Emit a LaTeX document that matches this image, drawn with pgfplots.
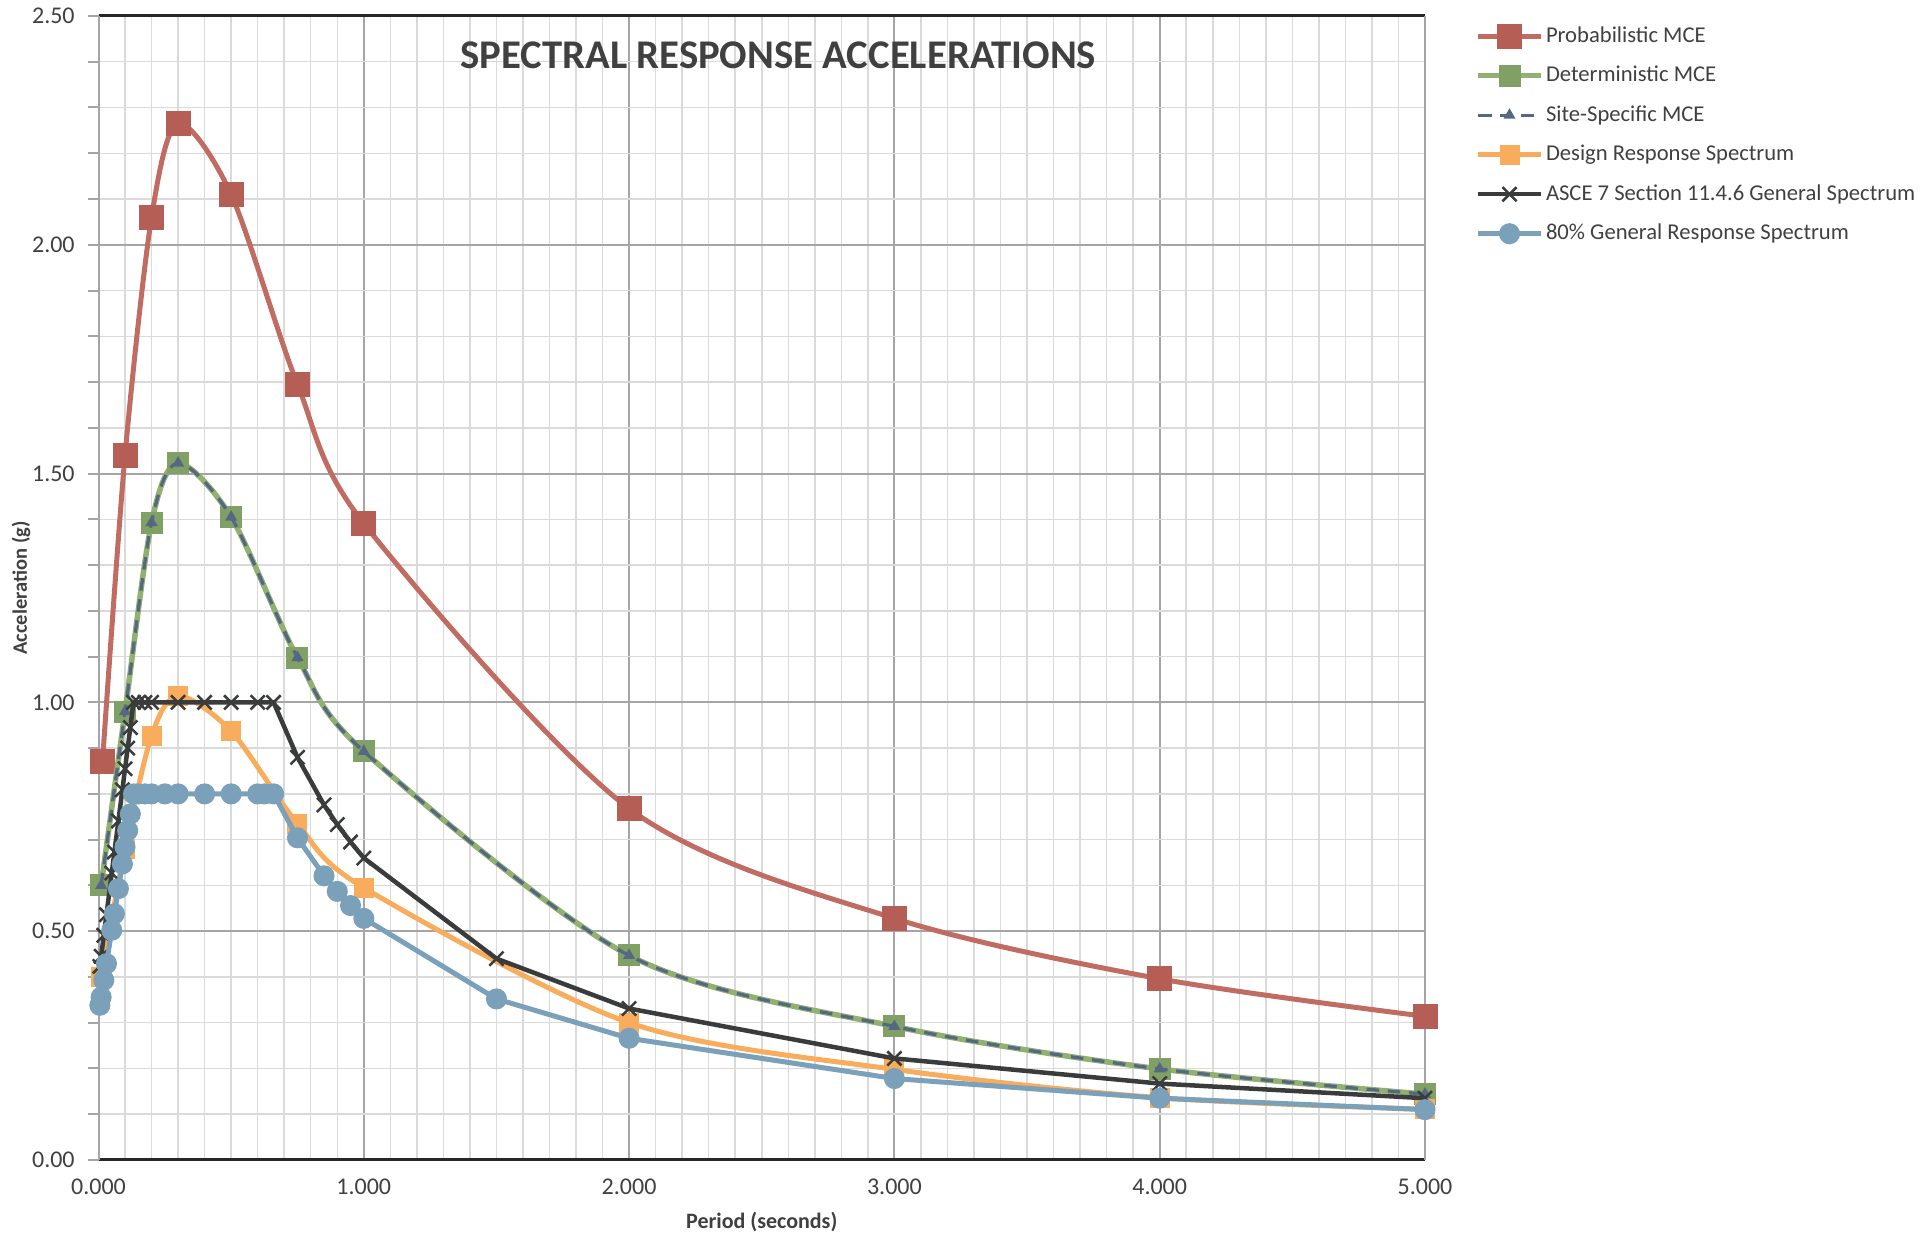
\documentclass[border=0pt]{standalone}
\usepackage{fontspec}
\setmainfont{Carlito}
\usepackage{pgfplots}
\pgfplotsset{compat=1.18}

\definecolor{cProb}{RGB}{192,108,98}
\definecolor{cProbM}{RGB}{180,94,86}
\definecolor{cDet}{RGB}{146,176,112}
\definecolor{cDetM}{RGB}{128,160,102}
\definecolor{cSite}{RGB}{84,104,132}
\definecolor{cDes}{RGB}{248,172,92}
\definecolor{cAsce}{RGB}{58,60,60}
\definecolor{cGen}{RGB}{122,160,186}
\definecolor{gridmajor}{RGB}{165,165,165}
\definecolor{gridminor}{RGB}{218,218,218}
\definecolor{textgrey}{RGB}{64,64,64}

\begin{document}
\begin{tikzpicture}
\path[use as bounding box] (0,0) rectangle (772.4pt,494.4pt);
\begin{axis}[
  at={(39.4pt,30.4pt)}, anchor=south west,
  scale only axis, width=530.6pt, height=457.6pt,
  xmin=0, xmax=5, ymin=0, ymax=2.5,
  xtick={0,1,2,3,4,5}, ytick={0,0.5,1,1.5,2,2.5},
  minor x tick num=9, minor y tick num=4,
  grid=both,
  major grid style={draw=gridmajor, line width=0.8pt},
  minor grid style={draw=gridminor, line width=0.6pt},
  separate axis lines,
  x axis line style={draw=black!85, line width=1.2pt},
  y axis line style={draw=gridmajor, line width=0.8pt},
  tick align=outside,
  xtick pos=bottom, ytick pos=left,
  major tick length=4pt, minor tick length=4pt,
  xtick style={draw=none},
  minor x tick style={draw=none},
  ytick style={draw=gridmajor, line width=0.8pt},
  xticklabel={\pgfmathprintnumber[assume math mode=true,fixed,fixed zerofill,precision=3]{\tick}},
  yticklabel={\pgfmathprintnumber[assume math mode=true,fixed,fixed zerofill,precision=2]{\tick}},
  tick label style={font=\fontsize{9.6}{11}\selectfont, text=textgrey},
  yticklabel style={xshift=-2pt},
  xlabel={Period (seconds)},
  ylabel={Acceleration (g)},
  xlabel style={font=\fontsize{8.8}{10}\selectfont\bfseries, text=textgrey, at={(axis description cs:0.5,-0.0538)}, anchor=center},
  ylabel style={font=\fontsize{8.2}{10}\selectfont\bfseries, text=textgrey, at={(axis description cs:-0.0584,0.5)}, anchor=center},
  legend style={at={(1,1)}, anchor=north west, xshift=20pt, yshift=-2.4pt,
    draw=none, fill=none, inner sep=0pt, row sep=4.8pt,
    font=\fontsize{9.05}{11}\selectfont, text=textgrey,
    nodes={inner sep=1pt, text height=7pt, text depth=2pt}},
  legend cell align=left,
  legend image code/.code={\draw[mark repeat=2,mark phase=2] plot coordinates {(0pt,0pt) (12.5pt,0pt) (25pt,0pt)};},
  clip mode=individual,
]
% Probabilistic MCE
\addplot[cProb, line width=2pt, smooth, mark=square*, mark size=4pt,
  mark options={solid, fill=cProbM, draw=cProbM}]
  coordinates {(0.015,0.87) (0.1,1.54) (0.2,2.06) (0.3,2.265) (0.5,2.11) (0.75,1.695) (1,1.391) (2,0.768) (3,0.528) (4,0.396) (5,0.314)};
\addlegendentry{Probabilistic MCE}
% Deterministic MCE
\addplot[cDet, line width=2.2pt, smooth, mark=square*, mark size=3.3pt,
  mark options={solid, fill=cDetM, draw=cDetM}]
  coordinates {(0.01,0.60) (0.1,0.98) (0.2,1.393) (0.3,1.523) (0.5,1.405) (0.75,1.098) (1,0.893) (2,0.447) (3,0.292) (4,0.199) (5,0.144)};
\addlegendentry{Deterministic MCE}
% Site-Specific MCE
\addplot[cSite, line width=1.3pt, smooth, dash pattern=on 5pt off 3.5pt, mark=triangle*, mark size=1.5pt,
  mark options={solid, fill=cSite, draw=cSite}]
  coordinates {(0.01,0.60) (0.1,0.98) (0.2,1.393) (0.3,1.523) (0.5,1.405) (0.75,1.098) (1,0.893) (2,0.447) (3,0.292) (4,0.199) (5,0.144)};
\addlegendentry{Site-Specific MCE}
% Design Response Spectrum
\addplot[cDes, line width=2pt, smooth, mark=square*, mark size=3pt,
  mark options={solid, fill=cDes, draw=cDes}]
  coordinates {(0.01,0.40) (0.1,0.68) (0.2,0.927) (0.3,1.014) (0.5,0.937) (0.75,0.735) (1,0.595) (2,0.300) (3,0.198) (4,0.136) (5,0.111)};
\addlegendentry{Design Response Spectrum}
% ASCE 7 Section 11.4.6 General Spectrum
\addplot[cAsce, line width=1.8pt, mark=x, mark size=4pt,
  mark options={solid, draw=cAsce, line width=1pt}]
  coordinates {(0.005,0.423) (0.01,0.445) (0.02,0.491) (0.03,0.536) (0.05,0.627) (0.06,0.673) (0.075,0.741) (0.09,0.809) (0.1,0.855) (0.11,0.900) (0.12,0.945) (0.132,1.0) (0.15,1.0) (0.175,1.0) (0.2,1.0) (0.3,1.0) (0.4,1.0) (0.5,1.0) (0.6,1.0) (0.66,1.0) (0.75,0.88) (0.85,0.776) (0.9,0.733) (0.95,0.695) (1,0.66) (1.5,0.44) (2,0.331) (3,0.222) (4,0.167) (5,0.135)};
\addlegendentry{ASCE 7 Section 11.4.6 General Spectrum}
% 80% General Response Spectrum
\addplot[cGen, line width=2pt, mark=*, mark size=3.2pt,
  mark options={solid, fill=cGen, draw=cGen}]
  coordinates {(0.005,0.338) (0.01,0.356) (0.02,0.393) (0.03,0.429) (0.05,0.502) (0.06,0.538) (0.075,0.593) (0.09,0.647) (0.1,0.684) (0.11,0.720) (0.12,0.756) (0.132,0.8) (0.15,0.8) (0.175,0.8) (0.2,0.8) (0.25,0.8) (0.3,0.8) (0.4,0.8) (0.5,0.8) (0.6,0.8) (0.625,0.8) (0.66,0.8) (0.75,0.704) (0.85,0.621) (0.9,0.587) (0.95,0.556) (1,0.528) (1.5,0.352) (2,0.266) (3,0.178) (4,0.135) (5,0.110)};
\addlegendentry{80\% General Response Spectrum}
\node[font=\fontsize{16.3}{20}\selectfont\bfseries, text=textgrey, anchor=center]
  at (rel axis cs:0.5,1) [yshift=-15.8pt, xshift=6.6pt] {SPECTRAL RESPONSE ACCELERATIONS};
\end{axis}
\end{tikzpicture}
\end{document}
